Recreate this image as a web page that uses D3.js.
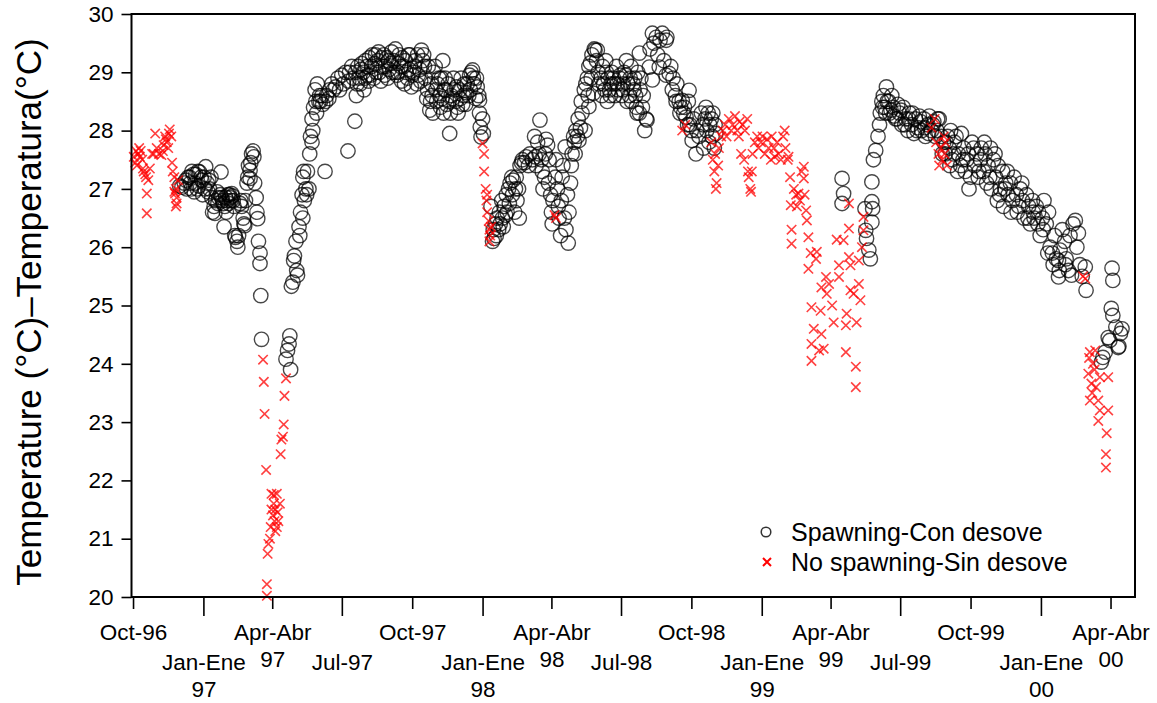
<!DOCTYPE html>
<html><head><meta charset="utf-8">
<script src="https://cdn.jsdelivr.net/npm/d3@7"></script>
<style>body{margin:0;background:#fff}svg{display:block}text{font-family:"Liberation Sans",Arial,sans-serif;fill:#000}</style>
</head><body>
<svg id="c" width="1157" height="703"></svg>
<script>
// Record start (day 0) and tick dates
const recordStart = "1996-10-01";
const tickDates = ["1996-10-01","1997-01-01","1997-04-01","1997-07-01","1997-10-01","1998-01-01","1998-04-01","1998-07-01","1998-10-01","1999-01-01","1999-04-01","1999-07-01","1999-10-01","2000-01-01","2000-04-01"];
const tickLabels = [["Oct-96"],["Jan-Ene","97"],["Apr-Abr","97"],["Jul-97"],["Oct-97"],["Jan-Ene","98"],["Apr-Abr","98"],["Jul-98"],["Oct-98"],["Jan-Ene","99"],["Apr-Abr","99"],["Jul-99"],["Oct-99"],["Jan-Ene","00"],["Apr-Abr","00"]];
const yTicks = [20,21,22,23,24,25,26,27,28,29,30];
const seriesNames = ["Spawning-Con desove","No spawning-Sin desove"];
const yTitle = "Temperature (°C)–Temperatura(°C)";

// [day since record start, temperature °C]
const spawning = [
[61,27.05],[64,27.03],[67,27.1],[69,27.15],[72,27.2],[74,27.2],[76,27.0],[77,27.3],[80,26.95],[81,27.1],[82,27.25],[85,27.3],[86,27.05],[87,27.29],[90,27.15],[91,26.9],[93,27.2],[95,27.38],[97,27.1],[98,26.95],[100,27.0],[102,27.2],[103,26.85],[104,26.6],[107,26.58],[108,26.8],[110,26.95],[111,26.75],[114,26.9],[115,27.29],[116,26.85],[117,26.8],[119,26.35],[120,26.7],[121,26.86],[123,26.8],[124,26.9],[125,26.75],[127,26.85],[128,26.8],[129,26.92],[130,26.88],[132,26.7],[133,26.2],[134,26.17],[136,26.1],[137,26.0],[138,26.2],[140,26.75],[141,26.8],[142,26.7],[144,26.5],[145,26.4],[146,26.37],[147,26.8],[149,27.1],[150,27.2],[151,27.4],[153,27.32],[153,27.18],[154,27.45],[155,27.6],[157,27.65],[158,27.55],[159,27.1],[161,26.85],[162,26.6],[163,26.49],[164,26.1],[166,25.9],[166,25.72],[167,25.17],[168,24.42],
[70,27.0],[75,27.1],[79,27.25],[84,27.0],[89,27.2],[94,27.0],[99,27.15],[106,26.7],[112,26.85],[118,26.75],[122,26.6],[126,26.9],[131,26.8],
[200,24.08],[202,24.23],[204,24.34],[205,24.48],[206,23.9],[207,25.33],[209,25.4],[210,25.77],[211,25.85],[213,26.1],[214,25.6],[215,25.52],[217,26.35],[218,26.2],
[219,26.6],[221,26.9],[222,27.2],[222,26.5],[223,27.3],[224,26.8],[226,27.0],[227,26.9],[228,27.3],[230,27.0],[231,27.6],[232,27.9],[234,28.2],[234,27.8],[235,28.0],[236,28.4],[238,28.7],[239,28.5],[240,28.3],[241,28.8],[243,28.5],[244,28.6],[245,28.5],[247,28.6],[248,28.45],[251,27.3],[252,28.5],[253,28.6],[256,28.55],[257,28.7],[260,28.8],[262,28.7],[265,28.75],[268,28.9],[270,28.7],[273,28.95],[275,28.8],[278,29.0],[281,27.65],[282,28.85],[283,29.0],[286,29.1],[288,28.9],
[290,28.16],[291,29.0],[292,28.6],[294,29.1],[296,28.9],[297,28.8],[299,29.15],[301,29.0],[302,28.7],[304,29.2],[307,28.95],[308,28.85],[309,29.25],[312,29.1],[313,29.3],[315,28.9],[317,29.3],[318,29.0],[320,29.2],[322,29.0],[324,28.85],[325,29.25],[328,29.3],[329,28.95],[330,29.1],[333,28.9],[334,29.2],[335,29.05],[338,29.35],[339,29.0],[341,29.2],[343,29.4],[345,28.95],[346,29.0],[348,29.3],[350,29.1],[351,28.85],[354,29.1],[355,28.8],[356,29.2],[359,28.9],[360,29.3],[361,29.05],[364,28.75],[365,28.95],[367,29.0],[369,29.2],[371,28.8],[372,29.3],[375,29.05],[376,28.85],[377,29.38],[380,29.3],[381,29.1],[382,28.9],[385,28.7],[386,29.1],[388,28.35],[389,28.5],[390,28.8],[392,28.3],[393,29.0],[395,29.1],[397,28.5],[398,28.8],[401,28.6],[402,28.4],[403,28.9],[405,29.2],[406,28.3],[407,28.7],[408,28.9],[410,28.45],[412,28.8],[414,27.95],[415,28.3],[416,28.6],[419,28.9],[420,28.7],[422,28.5],[424,28.4],[425,28.3],[427,28.7],[429,28.9],[431,28.45],[432,28.6],[435,28.45],[436,28.65],[437,28.8],[440,28.95],[441,28.7],[442,29.0],[444,29.04],[446,28.8],[448,28.55],[449,28.9],[452,28.6],[453,28.52],[453,28.3],[454,28.06],[455,27.89],
[293,28.8],[298,29.05],[303,28.9],[306,29.1],[311,28.95],[316,29.15],[321,29.35],[327,29.1],[332,29.25],[337,29.15],[342,29.0],[347,29.15],[352,29.25],[357,29.0],[362,29.3],[368,29.1],[373,28.95],[379,29.2],[384,28.55],[391,28.6],[396,28.7],[400,28.9],[404,28.55],[409,28.7],[413,28.5],[418,28.55],[423,28.75],[428,28.55],[433,28.8],[439,28.6],[445,28.9],[450,28.75],
[457,28.2],[458,27.95],[468,26.7],[470,26.1],[471,26.3],[472,26.15],[474,26.4],[475,26.2],[476,26.5],[478,26.3],[479,26.6],[480,26.4],[482,26.8],[483,26.5],[484,26.35],[485,26.7],[487,26.55],[488,26.9],[489,26.6],[491,27.0],[492,26.75],[493,27.1],[495,27.2],[496,26.9],[497,27.15],[499,26.6],[500,27.0],[501,27.2],[502,26.8],[504,27.0],[505,26.5],[506,27.4],[508,27.45],
[509,27.5],[512,27.45],[514,27.55],[517,27.4],[519,27.6],[522,27.5],[525,27.9],[526,27.55],[527,27.4],[529,27.8],[531,27.6],[532,28.18],[534,27.5],[535,27.3],[536,27.0],[538,27.2],[539,27.6],[540,27.85],[542,27.75],[543,27.1],[544,27.5],[546,26.9],[547,26.6],[548,26.4],[549,26.8],[552,27.2],[553,27.5],[555,27.0],[556,26.7],[557,26.5],[559,26.2],[560,26.8],[561,27.2],[562,27.4],[564,26.5],[565,27.72],[566,26.3],[568,26.9],[569,26.07],[570,26.6],[572,27.1],[573,27.4],[574,27.6],[576,27.9],[577,27.8],[578,27.6],[579,28.0],[581,27.9],[582,28.2],[583,27.83],[585,28.05],[586,28.5],[587,28.3],[590,28.7],[591,28.0],[592,28.8],[594,28.9],[595,28.6],[596,28.41],[596,29.1],[598,29.16],[599,28.9],[600,29.3],[602,28.64],[603,29.4],[604,29.38],[606,29.2],[607,29.38],[608,29.0],[609,28.8],
[612,28.9],[613,28.6],[614,29.1],[617,28.7],[618,29.2],[620,28.5],[621,28.9],[624,28.6],[625,28.8],[626,29.0],[629,28.8],[630,28.6],[632,29.1],[634,28.7],[636,28.9],[637,28.95],[639,28.6],[641,28.8],[642,29.0],[645,29.2],[646,28.5],[647,28.8],[650,28.9],[651,29.1],[652,28.5],[655,28.7],[656,28.9],[658,28.4],[659,28.3],[660,29.0],[662,29.33],[662,28.3],[664,28.9],[667,28.6],[669,28.0],[671,28.2],[672,28.18],[675,29.09],[676,29.4],[679,29.67],[679,28.87],[681,29.5],[684,29.6],[686,29.3],[688,29.09],[689,29.55],[692,29.67],[694,29.2],[697,29.55],[697,28.95],[698,29.6],[701,28.98],[703,29.1],[706,28.9],[709,28.6],[711,28.8],[714,28.5],[716,28.4],[718,28.52],[720,28.3],[723,28.23],[726,28.5],[727,28.69],[728,28.1],[731,27.83],[733,28.2],[736,27.6],[737,28.0],[740,27.9],
[615,28.8],[619,29.0],[623,28.7],[628,28.9],[633,28.8],[640,28.7],[644,28.95],[649,28.6],[654,28.8],[657,28.6],[663,28.7],[666,28.4],[705,28.7],[710,28.5],[715,28.3],[721,28.4],[725,28.1],[730,28.0],
[743,28.3],[745,28.1],[746,27.7],[748,28.2],[749,28.4],[750,28.0],[752,28.3],[753,27.8],[754,28.1],[756,28.2],[757,27.9],[758,28.3],[760,27.7],[761,28.1],[762,27.95],
[927,27.18],[929,26.92],[927,26.75],[957,26.66],[958,26.29],[959,26.15],[962,25.95],[964,25.8],[966,26.78],[966,27.12],[966,26.43],[967,26.66],[968,27.5],[971,27.66],[974,27.9],[976,28.1],[977,28.3],[979,28.5],[981,28.6],[983,28.4],[985,28.75],[986,28.5],[989,28.3],[992,28.6],[994,28.4],[997,28.2],[1000,28.45],[1002,28.3],[1005,28.1],[1007,28.4],[1010,28.2],[1013,28.0],[1015,28.3],[1018,28.1],[1021,27.95],[1023,28.2],[1026,28.05],[1028,28.25],[1031,28.0],[1034,28.2],[1036,27.9],[1039,28.1],[1041,28.25],[1044,28.0],[1047,28.15],[1049,27.9],[1052,28.2],
[980,28.4],[984,28.3],[988,28.5],[991,28.35],[995,28.25],[999,28.2],[1004,28.35],[1009,28.1],[1014,28.2],[1019,28.3],[1025,28.0],[1030,28.15],[1035,28.05],[1040,27.95],[1046,28.1],[1051,28.0],
[1054,28.2],[1057,27.9],[1060,27.8],[1062,27.6],[1065,27.9],[1067,27.7],[1069,28.0],[1071,27.5],[1074,27.8],[1076,27.9],[1079,27.6],[1082,27.4],[1083,27.95],[1086,27.7],[1088,27.3],[1090,27.5],[1092,27.6],[1095,27.2],[1097,27.8],[1100,27.4],[1103,27.6],[1105,27.2],[1108,27.5],[1109,27.7],[1112,27.3],[1114,27.6],[1116,27.1],[1118,27.4],[1121,27.7],[1122,27.0],[1125,27.5],[1128,27.2],[1130,26.8],[1131,27.4],[1134,27.0],[1137,27.3],[1138,26.7],[1141,27.1],[1143,27.3],[1144,26.9],[1147,27.1],[1150,26.8],[1152,27.2],[1155,26.9],[1158,26.7],[1160,27.0],[1163,26.8],[1165,26.5],[1168,26.9],[1171,26.7],[1173,26.4],[1176,26.8],[1178,26.5],[1181,26.7],[1184,26.6],[1186,26.2],[1189,26.5],[1191,26.8],[1194,26.4],[1197,26.6],[1199,26.0],[1202,25.9],[1205,26.2],[1207,25.8],[1210,25.77],[1210,25.49],[1212,25.95],[1215,26.3],[1218,26.1],[1220,25.8],[1223,25.6],[1225,26.2],[1227,25.52],[1229,26.4],[1232,26.46],[1234,26.0],[1236,26.24],[1238,25.7],[1241,25.5],[1245,25.66],[1246,25.26],
[1058,27.6],[1063,27.8],[1068,27.4],[1073,27.6],[1078,27.3],[1085,27.5],[1093,27.0],[1099,27.7],[1106,27.3],[1113,27.8],[1120,27.2],[1127,27.6],[1133,26.9],[1140,27.0],[1148,26.6],[1156,26.6],[1162,27.1],[1170,26.5],[1177,26.6],[1183,26.4],[1190,26.3],[1196,25.9],[1203,25.7],[1211,25.6],[1219,25.7],
[1280,25.64],[1281,25.43],[1279,24.95],[1281,24.83],[1285,24.63],[1291,24.52],[1288,24.28],[1277,24.4],[1268,24.11],[1266,24.03],[1271,24.2],[1275,24.45],[1293,24.6],[1289,24.3]
];

const noSpawning = [
[1,27.55],[3,27.45],[4,27.65],[5,27.4],[7,27.6],[8,27.7],[9,27.55],[10,27.65],[12,27.5],[13,27.35],[14,27.3],[16,27.25],[17,27.2],[18,26.92],[18,26.58],[20,27.15],[22,27.35],[25,27.6],[27,27.6],[29,27.95],[31,27.7],[34,27.6],[37,27.58],[39,27.65],[40,27.75],[42,27.9],[43,27.85],[44,27.8],[46,27.7],[47,27.95],[48,28.02],[50,27.9],[51,27.45],[52,27.3],[54,27.2],[55,26.92],[56,26.7],[57,26.85],[59,27.15],[56,27.0],[54,26.95],[57,26.75],
[170,24.07],[171,23.69],[172,23.14],[174,22.18],[175,20.22],[175,20.02],[176,20.74],[177,20.91],[179,21.0],[180,21.2],[181,21.5],[181,21.77],[183,21.4],[184,21.6],[185,21.3],[186,21.5],[186,21.13],[188,21.77],[189,21.45],[190,21.3],[192,21.6],[193,22.45],[194,22.7],[196,22.75],[197,22.96],[198,23.45],[200,23.75],[188,21.2],[184,21.75],
[457,27.78],[459,27.6],[459,27.3],[461,27.0],[462,26.8],[463,26.6],[465,26.45],[466,26.3],[467,26.2],[466,26.1],[468,26.35],[463,26.9],
[551,26.55],[553,26.5],
[718,28.0],[722,28.1],
[756,27.8],[758,27.5],[760,27.3],[761,27.6],[762,27.0],[763,27.1],[765,27.4],[766,27.7],[769,27.9],[771,28.0],[774,28.1],[776,27.9],[779,28.2],[782,28.0],[784,28.1],[787,28.25],[790,28.0],[792,27.9],[793,28.15],[795,27.6],[797,28.1],[799,27.5],[800,28.0],[803,28.2],[804,27.3],[805,27.2],[807,27.0],[808,26.95],[809,27.3],[810,27.6],[813,27.8],[816,27.9],[818,27.7],
[821,27.8],[823,27.9],[826,27.6],[829,27.85],[831,27.7],[834,27.5],[835,27.9],[838,27.7],[839,27.55],[842,27.8],[844,27.6],[847,27.5],[850,27.9],[852,28.0],[853,27.7],[856,27.5],[857,27.55],[859,27.2],[860,26.72],[861,26.3],[861,26.06],[864,27.0],[867,26.9],[868,26.7],[870,26.92],[872,26.8],[874,27.3],[877,27.38],[877,27.18],[878,26.9],[880,26.63],[881,26.46],[883,26.17],[883,25.63],[886,25.9],[887,24.97],[887,24.34],[887,24.05],[890,24.6],[893,25.8],[894,25.92],[897,24.23],[899,24.91],[900,25.31],[900,24.51],[903,24.26],[906,25.49],[907,25.2],[910,25.37],[914,25.0],[916,24.71],[920,26.13],[923,25.69],[923,25.49],[929,26.12],[932,24.66],[932,24.2],[933,24.86],[936,26.32],[936,25.83],[936,26.75],[938,25.69],[938,25.26],[942,25.2],[945,23.95],[945,23.6],[946,24.71],[949,25.77],[949,25.37],[951,25.09],[953,26.0],[955,26.52],[955,26.29],
[1044,28.05],[1048,28.2],[1050,27.8],[1053,27.6],[1054,27.4],[1056,27.7],[1058,27.5],[1060,27.9],[1061,27.6],[1064,27.4],[1062,27.8],
[1242,25.5],[1245,25.46],[1251,24.2],[1258,24.23],[1255,24.0],[1249,23.83],[1264,23.77],[1275,23.77],[1253,23.66],[1251,23.37],[1262,23.37],[1264,23.2],[1275,23.2],[1262,23.02],[1273,22.81],[1272,22.45],[1272,22.22],[1250,24.1],[1254,23.5],[1257,23.9],[1259,23.6]
];

const parse = d3.timeParse("%Y-%m-%d");
const t0 = parse(recordStart);
const dayToDate = d => d3.timeDay.offset(t0, d);

const L = 131.5, R = 1135, T = 14, B = 597;
const svg = d3.select("#c");
const x = d3.scaleTime().domain([dayToDate(-2), dayToDate(1310)]).range([L, R]);
const y = d3.scaleLinear().domain([20, 30]).range([B, T]);

// circles (spawning)
svg.append("g").selectAll("circle").data(spawning).join("circle")
  .attr("cx", d => x(dayToDate(d[0]))).attr("cy", d => y(d[1])).attr("r", 7.2)
  .attr("fill", "none").attr("stroke", "#000").attr("stroke-opacity", 0.72).attr("stroke-width", 1.4);

// crosses (no spawning)
const h = 4.7;
svg.append("g").selectAll("path").data(noSpawning).join("path")
  .attr("d", d => { const cx = x(dayToDate(d[0])), cy = y(d[1]);
    return `M${cx-h},${cy-h}L${cx+h},${cy+h}M${cx-h},${cy+h}L${cx+h},${cy-h}`; })
  .attr("stroke", "#ff0000").attr("stroke-opacity", 0.75).attr("stroke-width", 1.6).attr("fill", "none");

// frame
svg.append("rect").attr("x", L).attr("y", T).attr("width", R - L).attr("height", B - T)
  .attr("fill", "none").attr("stroke", "#000").attr("stroke-width", 2);

// y axis
const ya = svg.append("g").attr("transform", `translate(${L},0)`)
  .call(d3.axisLeft(y).tickValues(yTicks).tickFormat(d3.format("d")).tickSize(10).tickPadding(8));
ya.select(".domain").remove();
ya.selectAll("line").attr("stroke", "#000").attr("stroke-width", 1.6);
ya.selectAll("text").style("font-size", "22.5px").style("font-family", '"Liberation Sans",Arial,sans-serif').attr("fill", "#000");

// x axis
const tDates = tickDates.map(parse);
const xa = svg.append("g").attr("transform", `translate(0,${B})`)
  .call(d3.axisBottom(x).tickValues(tDates).tickFormat("").tickSizeOuter(0));
xa.select(".domain").remove();
xa.selectAll(".tick line").attr("stroke", "#000").attr("stroke-width", 1.6)
  .attr("y2", (d, i) => i % 2 === 1 ? 19 : 12);
xa.selectAll(".tick").each(function(d, i) {
  const g = d3.select(this);
  const base = i % 2 === 1 ? 73 : 43;
  const t = g.append("text").attr("text-anchor", "middle").attr("fill", "#000")
    .style("font-size", "22.5px").style("font-family", '"Liberation Sans",Arial,sans-serif');
  tickLabels[i].forEach((s, k) => t.append("tspan").attr("x", 0).attr("y", base + k * 27).text(s));
});

// y title
svg.append("text").attr("transform", "translate(41,312) rotate(-90)").attr("text-anchor", "middle")
  .style("font-size", "35px").text(yTitle);

// legend
const lg = svg.append("g");
lg.append("circle").attr("cx", 766).attr("cy", 532).attr("r", 4.8).attr("fill", "none").attr("stroke", "#333").attr("stroke-width", 1.5);
lg.append("text").attr("x", 791).attr("y", 541).style("font-size", "25px").text(seriesNames[0]);
const lx = 767, ly = 562, lh = 4;
lg.append("path").attr("d", `M${lx-lh},${ly-lh}L${lx+lh},${ly+lh}M${lx-lh},${ly+lh}L${lx+lh},${ly-lh}`)
  .attr("stroke", "#ff0000").attr("stroke-width", 2).attr("fill", "none");
lg.append("text").attr("x", 791).attr("y", 571).style("font-size", "25px").text(seriesNames[1]);
</script>
</body></html>
